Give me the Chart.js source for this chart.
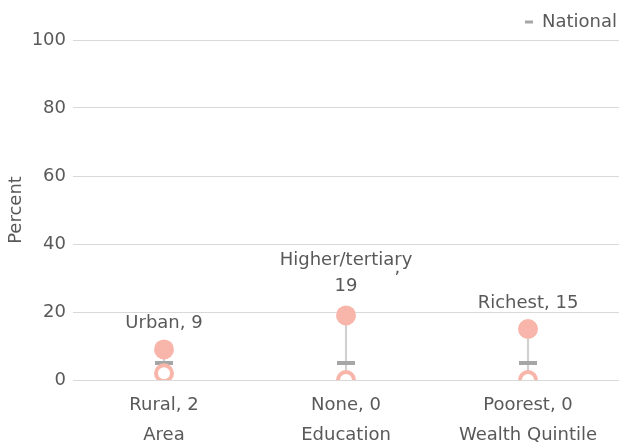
<!DOCTYPE html>
<html>
<head>
<meta charset="utf-8">
<script src="https://cdn.jsdelivr.net/npm/chart.js@4.4.0/dist/chart.umd.min.js"></script>
<style>
html,body{margin:0;padding:0;background:#fff;}
#wrap{width:619px;height:445px;position:relative;}
</style>
</head>
<body>
<div id="wrap"><canvas id="c" width="619" height="445"></canvas></div>
<script>
const categories = ['Area', 'Education', 'Wealth Quintile'];
const highNames = ['Urban', 'Higher/tertiary', 'Richest'];
const highValues = [9, 19, 15];
const lowNames = ['Rural', 'None', 'Poorest'];
const lowValues = [2, 0, 0];
const nationalValues = [5, 5, 5];
const yTicks = [0, 20, 40, 60, 80, 100];

const FONT = "'DejaVu Sans', sans-serif";
const FS = 18;
const TEXT = '#595959';
const PINK = '#F8B6AA';
const GRAY = '#A6A6A6';

const legendSpacer = {
  id: 'legendSpacer',
  beforeInit(chart) {
    const origFit = chart.legend.fit;
    chart.legend.fit = function () {
      origFit.bind(chart.legend)();
      this.height -= 1;
    };
  }
};

const labelPlugin = {
  id: 'pointLabels',
  afterDatasetsDraw(chart) {
    const ctx = chart.ctx;
    const meta = chart.getDatasetMeta(1);
    ctx.save();
    ctx.font = FS + 'px ' + FONT;
    ctx.fillStyle = TEXT;
    ctx.textAlign = 'center';
    ctx.textBaseline = 'middle';
    meta.data.forEach((pt, i) => {
      const name = highNames[i];
      const val = highValues[i];
      const full = name + ', ' + val;
      const w = ctx.measureText(full).width;
      if (w > 120) {
        ctx.fillText(String(val), pt.x, pt.y - 29);
        ctx.fillText(name, pt.x, pt.y - 55);
        const nw = ctx.measureText(name).width;
        ctx.fillText(',', pt.x + nw / 2 - 15, pt.y - 47);
      } else {
        ctx.fillText(full, pt.x, pt.y - 26);
      }
    });
    ctx.restore();
  }
};

new Chart(document.getElementById('c'), {
  data: {
    labels: categories.map((c, i) => [lowNames[i] + ', ' + lowValues[i], c]),
    datasets: [
      {
        type: 'line',
        label: 'National',
        data: nationalValues,
        showLine: false,
        pointStyle: 'line',
        pointRadius: 9,
        pointHoverRadius: 9,
        borderColor: GRAY,
        backgroundColor: GRAY,
        pointBorderWidth: 4,
        order: 2
      },
      {
        type: 'line',
        label: 'High',
        data: highValues,
        showLine: false,
        pointStyle: 'circle',
        pointRadius: 10,
        pointHoverRadius: 10,
        pointBackgroundColor: PINK,
        pointBorderColor: PINK,
        pointBorderWidth: 0,
        order: 0
      },
      {
        type: 'line',
        label: 'Low',
        data: lowValues,
        showLine: false,
        pointStyle: 'circle',
        pointRadius: 8,
        pointHoverRadius: 8,
        pointBackgroundColor: '#ffffff',
        pointBorderColor: PINK,
        pointBorderWidth: 4,
        order: 1
      },
      {
        type: 'bar',
        label: 'Range',
        data: lowValues.map((v, i) => [v, highValues[i]]),
        backgroundColor: '#D0D0D0',
        barThickness: 1.5,
        order: 10
      }
    ]
  },
  options: {
    responsive: false,
    animation: false,
    layout: { autoPadding: false, padding: { top: 11, right: 0, bottom: 0, left: 0 } },
    plugins: {
      tooltip: { enabled: false },
      legend: {
        display: true,
        position: 'top',
        align: 'end',
        labels: {
          boxWidth: 8,
          boxHeight: 3,
          padding: 2,
          color: TEXT,
          font: { family: FONT, size: FS },
          generateLabels: (chart) => [{
            text: 'National', fillStyle: GRAY, strokeStyle: GRAY, fontColor: TEXT, lineWidth: 0, datasetIndex: 0, hidden: false
          }]
        }
      }
    },
    scales: {
      x: {
        type: 'category',
        offset: true,
        grid: { display: false },
        border: { display: false },
        afterFit: (s) => { s.height = 65; s.paddingLeft = 0; s.paddingRight = 0; },
        ticks: {
          color: TEXT,
          font: { family: FONT, size: FS, lineHeight: 30 / FS },
          padding: 2,
          maxRotation: 0
        }
      },
      y: {
        min: 0,
        max: 100,
        afterBuildTicks: (s) => { s.ticks = yTicks.map(v => ({ value: v })); },
        afterFit: (s) => { s.width = 73; s.paddingTop = 0; s.paddingBottom = 0; },
        grid: { color: '#D9D9D9', lineWidth: 1, drawTicks: false },
        border: { display: false },
        ticks: {
          color: TEXT,
          font: { family: FONT, size: FS },
          padding: 7
        },
        title: {
          display: true,
          text: 'Percent',
          color: TEXT,
          font: { family: FONT, size: FS },
          padding: { top: 6, bottom: 0 }
        }
      }
    }
  },
  plugins: [legendSpacer, labelPlugin]
});
</script>
</body>
</html>
